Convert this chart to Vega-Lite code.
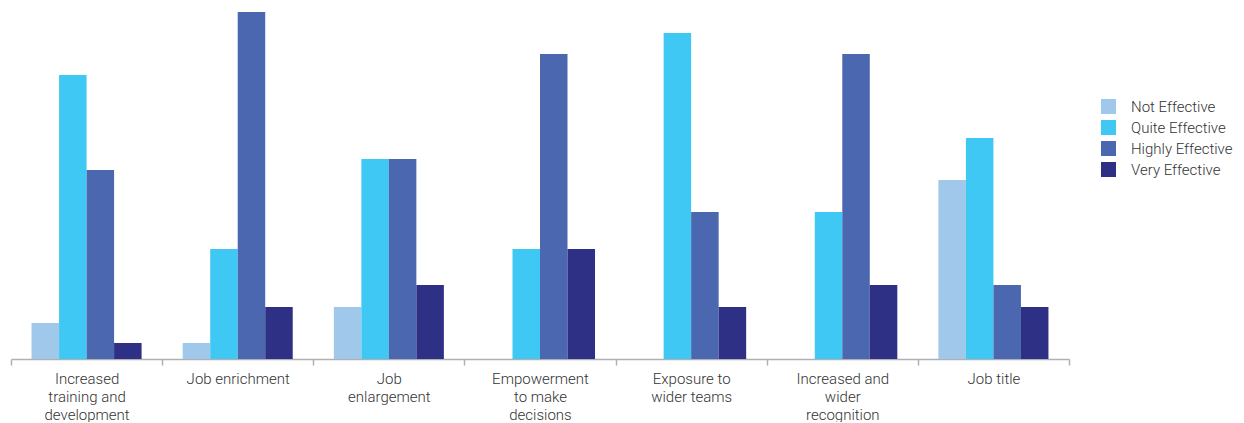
{
  "$schema": "https://vega.github.io/schema/vega-lite/v6.json",
  "width": 1058,
  "height": 359,
  "padding": {"left": 10, "top": 0, "right": 0, "bottom": 0},
  "autosize": {"type": "pad"},
  "background": "white",
  "config": {"view": {"stroke": null}},
  "data": {"values": [
    {"cat": "Increased|training and|development", "s": "Not Effective", "v": 36},
    {"cat": "Increased|training and|development", "s": "Quite Effective", "v": 284},
    {"cat": "Increased|training and|development", "s": "Highly Effective", "v": 189},
    {"cat": "Increased|training and|development", "s": "Very Effective", "v": 16},
    {"cat": "Job enrichment", "s": "Not Effective", "v": 16},
    {"cat": "Job enrichment", "s": "Quite Effective", "v": 110},
    {"cat": "Job enrichment", "s": "Highly Effective", "v": 347},
    {"cat": "Job enrichment", "s": "Very Effective", "v": 52},
    {"cat": "Job|enlargement", "s": "Not Effective", "v": 52},
    {"cat": "Job|enlargement", "s": "Quite Effective", "v": 200},
    {"cat": "Job|enlargement", "s": "Highly Effective", "v": 200},
    {"cat": "Job|enlargement", "s": "Very Effective", "v": 74},
    {"cat": "Empowerment|to make|decisions", "s": "Not Effective", "v": 0},
    {"cat": "Empowerment|to make|decisions", "s": "Quite Effective", "v": 110},
    {"cat": "Empowerment|to make|decisions", "s": "Highly Effective", "v": 305},
    {"cat": "Empowerment|to make|decisions", "s": "Very Effective", "v": 110},
    {"cat": "Exposure to|wider teams", "s": "Not Effective", "v": 0},
    {"cat": "Exposure to|wider teams", "s": "Quite Effective", "v": 326},
    {"cat": "Exposure to|wider teams", "s": "Highly Effective", "v": 147},
    {"cat": "Exposure to|wider teams", "s": "Very Effective", "v": 52},
    {"cat": "Increased and|wider|recognition", "s": "Not Effective", "v": 0},
    {"cat": "Increased and|wider|recognition", "s": "Quite Effective", "v": 147},
    {"cat": "Increased and|wider|recognition", "s": "Highly Effective", "v": 305},
    {"cat": "Increased and|wider|recognition", "s": "Very Effective", "v": 74},
    {"cat": "Job title", "s": "Not Effective", "v": 179},
    {"cat": "Job title", "s": "Quite Effective", "v": 221},
    {"cat": "Job title", "s": "Highly Effective", "v": 74},
    {"cat": "Job title", "s": "Very Effective", "v": 52}
  ]},
  "mark": {"type": "bar"},
  "encoding": {
    "x": {
      "field": "cat", "type": "nominal", "sort": null,
      "scale": {"paddingInner": 0, "paddingOuter": 0},
      "axis": {
        "title": null, "labelAngle": 0,
        "labelExpr": "isValid(datum.value) ? split(datum.value, '|') : ''",
        "tickBand": "extent",
        "domainColor": "#b0b0b0", "domainWidth": 1.5,
        "tickColor": "#b0b0b0", "tickWidth": 1.5, "tickSize": 6,
        "labelFont": "Roboto", "labelFontWeight": 300, "labelFontSize": 15,
        "labelColor": "#333333", "labelPadding": 6, "labelLineHeight": 18,
        "labelBaseline": "top"
      }
    },
    "xOffset": {
      "field": "s", "type": "nominal",
      "scale": {"domain": ["Not Effective", "Quite Effective", "Highly Effective", "Very Effective"], "paddingInner": 0, "paddingOuter": 0.747}
    },
    "y": {"field": "v", "type": "quantitative", "scale": {"domain": [0, 359]}, "axis": null},
    "color": {
      "field": "s", "type": "nominal",
      "scale": {
        "domain": ["Not Effective", "Quite Effective", "Highly Effective", "Very Effective"],
        "range": ["#a0c8ea", "#40c8f4", "#4a67b0", "#2e3085"]
      },
      "legend": {
        "title": null, "orient": "none", "legendX": 1090, "legendY": 99,
        "symbolType": "square", "symbolSize": 225, "symbolStrokeWidth": 0,
        "labelFont": "Roboto", "labelFontWeight": 300, "labelFontSize": 15,
        "labelColor": "#333333", "labelOffset": 15, "rowPadding": 5
      }
    }
  }
}
